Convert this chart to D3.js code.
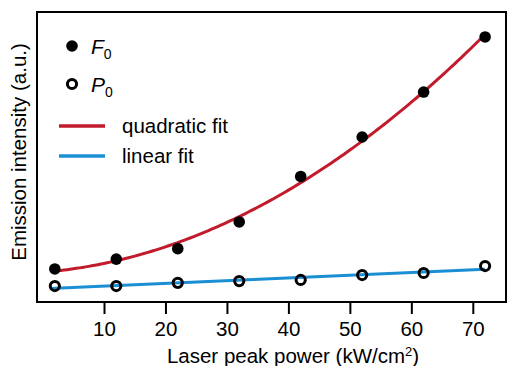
<!DOCTYPE html>
<html><head><meta charset="utf-8">
<script src="https://cdn.jsdelivr.net/npm/d3@7"></script>
<style>
html,body{margin:0;padding:0;background:#fff;}
text{font-family:"Liberation Sans",Arial,sans-serif;fill:#000;}
</style></head>
<body><svg id="c" width="508" height="366"></svg>
<script>
const power = [2, 12, 22, 32, 42, 52, 62, 72];
const F0 = [1.14, 1.48, 1.84, 2.76, 4.33, 5.69, 7.24, 9.14];
const P0 = [0.55, 0.55, 0.66, 0.72, 0.76, 0.93, 1.00, 1.24];
const xTicks = [10, 20, 30, 40, 50, 60, 70];
const legendItems = ["quadratic fit", "linear fit"];

const svg = d3.select("#c");
const L = 37, R = 506, T = 12, B = 302;
const x = d3.scaleLinear().domain([-0.9, 75.4]).range([L, R]);
const y = d3.scaleLinear().domain([0, 10]).range([B, T]);
const red = "#c21b2b", blue = "#1b8fd4";

// least-squares fits
function polyfit(xs, ys, deg) {
  const n = deg + 1;
  const A = Array.from({length: n}, () => new Array(n + 1).fill(0));
  xs.forEach((xv, k) => {
    for (let i = 0; i < n; i++) {
      for (let j = 0; j < n; j++) A[i][j] += Math.pow(xv, i + j);
      A[i][n] += ys[k] * Math.pow(xv, i);
    }
  });
  for (let i = 0; i < n; i++) {
    let p = i; for (let r = i + 1; r < n; r++) if (Math.abs(A[r][i]) > Math.abs(A[p][i])) p = r;
    [A[i], A[p]] = [A[p], A[i]];
    for (let r = 0; r < n; r++) if (r !== i) {
      const f = A[r][i] / A[i][i];
      for (let c = i; c <= n; c++) A[r][c] -= f * A[i][c];
    }
  }
  return A.map((row, i) => row[n] / row[i]);
}
const qc = polyfit(power, F0, 2), lc = polyfit(power, P0, 1);
const xs = d3.range(power[0], power[power.length - 1] + 0.001, 0.5);
const line = d3.line().x(d => x(d[0])).y(d => y(d[1]));
svg.append("path").datum(xs.map(v => [v, qc[0] + qc[1]*v + qc[2]*v*v]))
  .attr("d", line).attr("fill", "none").attr("stroke", red).attr("stroke-width", 3);
svg.append("path").datum([[1.2, lc[0] + lc[1]*1.2], [72, lc[0] + lc[1]*72]])
  .attr("d", line).attr("fill", "none").attr("stroke", blue).attr("stroke-width", 3);

// points
svg.append("g").selectAll("circle").data(power).join("circle")
  .attr("cx", (d) => x(d)).attr("cy", (d, i) => y(F0[i])).attr("r", 5.8).attr("fill", "#000");
svg.append("g").selectAll("circle").data(power).join("circle")
  .attr("cx", (d) => x(d)).attr("cy", (d, i) => y(P0[i])).attr("r", 4.6)
  .attr("fill", "none").attr("stroke", "#000").attr("stroke-width", 3);

// frame
svg.append("rect").attr("x", L).attr("y", T).attr("width", R - L).attr("height", B - T)
  .attr("fill", "none").attr("stroke", "#000").attr("stroke-width", 2);

// x axis
const xa = svg.append("g").attr("transform", `translate(0,${B})`)
  .call(d3.axisBottom(x).tickValues(xTicks).tickSize(12).tickPadding(7).tickFormat(d3.format("d")));
xa.select(".domain").remove();
xa.selectAll("line").attr("stroke", "#000").attr("stroke-width", 2);
xa.selectAll("text").attr("font-size", 20.5).attr("fill", "#000")
  .attr("font-family", "'Liberation Sans',Arial,sans-serif");

svg.append("text").attr("x", 293).attr("y", 363).attr("text-anchor", "middle").attr("font-size", 20.5)
  .html("Laser peak power (kW/cm<tspan font-size='13' dy='-7'>2</tspan><tspan dy='7'>)</tspan>");
svg.append("text").attr("transform", "translate(26,152) rotate(-90)").attr("text-anchor", "middle")
  .attr("font-size", 20.5).text("Emission intensity (a.u.)");

// legend
svg.append("circle").attr("cx", 72).attr("cy", 46).attr("r", 5.8).attr("fill", "#000");
svg.append("circle").attr("cx", 72).attr("cy", 84).attr("r", 4.6).attr("fill", "none")
  .attr("stroke", "#000").attr("stroke-width", 3);
svg.append("text").attr("x", 91).attr("y", 54).attr("font-size", 21)
  .html("<tspan font-style='italic'>F</tspan><tspan font-size='14' dy='5'>0</tspan>");
svg.append("text").attr("x", 91).attr("y", 92).attr("font-size", 21)
  .html("<tspan font-style='italic'>P</tspan><tspan font-size='14' dy='5'>0</tspan>");
const lcol = [red, blue], ly = [126, 156];
legendItems.forEach((t, i) => {
  svg.append("line").attr("x1", 59).attr("x2", 105).attr("y1", ly[i]).attr("y2", ly[i])
    .attr("stroke", lcol[i]).attr("stroke-width", 3.5);
  svg.append("text").attr("x", 122).attr("y", ly[i] + 7).attr("font-size", 20.5).text(t);
});
</script></body></html>
